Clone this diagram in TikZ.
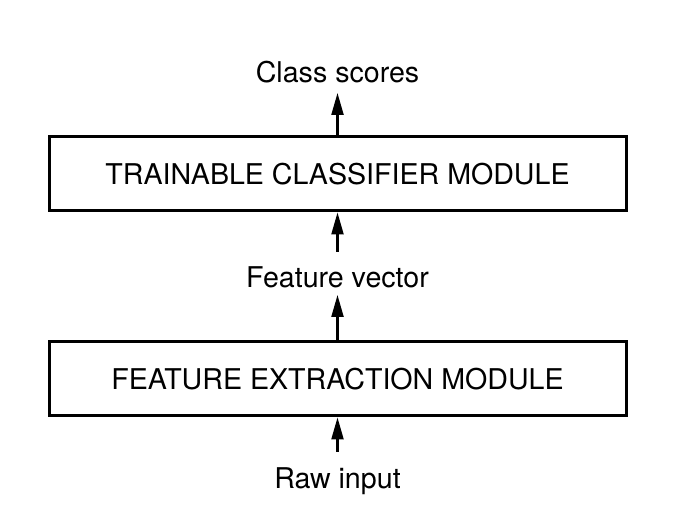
\documentclass[tikz,border=0pt]{standalone}
\usepackage{fontspec}
\setmainfont{TeX Gyre Heros}
\usetikzlibrary{positioning, arrows.meta}

\begin{document}
\begin{tikzpicture}[
    x=0.5pt, y=-0.5pt,        % pixel grid of the reference
    >={Triangle[length=11pt, width=6pt]},
    font=\fontsize{14.3}{17}\selectfont,
    % module box style
    module_box/.style={
        draw=black,
        line width=1.5pt,
        minimum width=288.5pt,
        minimum height=37pt,
        inner sep=0pt
    },
    flow_arrow/.style={->, line width=1.1pt}
]

    % --- 0. canvas ---
    \useasboundingbox (0, 0) rectangle (675, 522);

    % --- 1. module boxes ---
    \node [module_box] (classifier) at (337.5, 174) {TRAINABLE CLASSIFIER MODULE};
    \node [module_box] (extractor)  at (337.5, 379) {FEATURE EXTRACTION MODULE};

    % --- 2. labels ---
    \node (scores)  at (337.5, 72)  {Class scores};
    \node (feature) at (337.5, 277) {Feature vector};
    \node (raw)     at (337.5, 481) {Raw input};

    % arrow ends
    \coordinate (scores_tip)  at (337.5, 93);
    \coordinate (feature_top) at (337.5, 252);
    \coordinate (feature_bot) at (337.5, 295);
    \coordinate (raw_top)     at (337.5, 452);

    % --- 3. arrows ---
    \draw [flow_arrow] (classifier.north) -- (scores_tip);
    \draw [flow_arrow] (feature_top) -- (classifier.south);
    \draw [flow_arrow] (extractor.north) -- (feature_bot);
    \draw [flow_arrow] (raw_top) -- (extractor.south);

\end{tikzpicture}
\end{document}
